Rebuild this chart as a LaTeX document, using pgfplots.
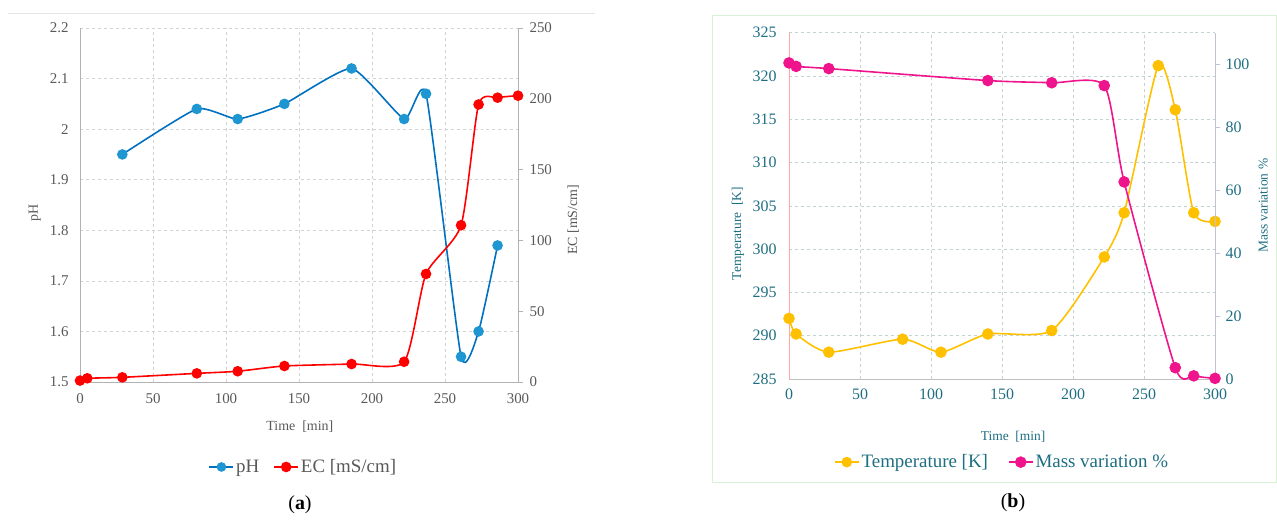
\documentclass[border=0pt]{standalone}
\usepackage{fontspec}
\setmainfont{Liberation Serif}
\usepackage{pgfplots}
\pgfplotsset{compat=1.18}
\definecolor{phblue}{RGB}{0,112,192}
\definecolor{phmark}{RGB}{30,150,210}
\definecolor{ecred}{RGB}{255,0,0}
\definecolor{tempy}{RGB}{255,192,0}
\definecolor{massp}{RGB}{240,20,140}
\definecolor{txta}{RGB}{89,89,89}
\definecolor{txtb}{RGB}{30,110,130}
\definecolor{gridc}{RGB}{210,210,210}
\definecolor{gridb}{RGB}{195,210,210}
\pgfplotsset{
  base/.style={scale only axis, xmin=0, xmax=300, xtick={0,50,...,300},
    /pgf/number format/assume math mode=true, clip=false,
    every axis plot/.append style={line width=1.6pt, smooth, tension=0.38},
    legend image code/.code={
      \draw[mark repeat=2,mark phase=2] plot coordinates {(0bp,0bp)(12bp,0bp)(24bp,0bp)};}},
  pa/.style={base, width=438bp, height=354bp, at={(80bp,-382bp)}, anchor=south west,
    tick label style={font=\fontsize{15}{15}\selectfont, text=txta},
    label style={font=\fontsize{14}{14}\selectfont, text=txta}},
  pb/.style={base, width=426bp, height=346.3bp, at={(789bp,-379bp)}, anchor=south west,
    tick label style={font=\fontsize{16}{16}\selectfont, text=txtb},
    label style={font=\fontsize{13.5}{13.5}\selectfont, text=txtb}},
}
\begin{document}
\begin{tikzpicture}[x=1bp,y=1bp]
\useasboundingbox (0,0) rectangle (1277,-521);
\draw[black!10, line width=0.8pt] (8,-13) -- (595,-13);
\draw[green!60!black!15, line width=1pt] (712,-16) rectangle (1276,-482);

% ---------- panel (a) left axis ----------
\begin{axis}[pa,
  axis x line*=bottom, axis y line*=left,
  ymin=1.5, ymax=2.2, ytick={1.5,1.6,...,2.21},
  yticklabels={1.5,1.6,1.7,1.8,1.9,2,2.1,2.2},
  grid=major, grid style={dashed, gridc, line width=0.6pt},
  axis line style={black!30, line width=0.8pt},
  major tick length=0pt,
  xticklabel style={yshift=-8bp},
  yticklabel style={xshift=-8bp},
  xlabel={Time\ \ [min]}, ylabel={pH},
  xlabel style={at={(axis description cs:0.502,-0.127)}, anchor=center},
  ylabel style={at={(axis description cs:-0.103,0.477)}, anchor=center},
]
\addplot[phblue, tension=0.3, mark=*, mark size=4.5pt, mark options={phmark, draw=phmark}] coordinates {
(29,1.95)(80,2.04)(108,2.02)(140,2.05)(186,2.12)(222,2.02)(237,2.07)(261,1.55)(273,1.60)(286,1.77)};
\end{axis}

% ---------- panel (a) right axis ----------
\begin{axis}[pa,
  axis x line=none, axis y line*=right,
  ymin=0, ymax=250, ytick={0,50,...,250},
  axis line style={black!30, line width=0.8pt},
  tick style={black!30, line width=0.8pt}, tick align=outside, major tick length=5bp,
  yticklabel style={xshift=3bp},
  ylabel={EC [mS/cm]},
  ylabel style={at={(axis description cs:1.126,0.458)}, anchor=center},
  legend style={at={(axis description cs:0.51,-0.24)}, anchor=center, draw=none,
    font=\fontsize{19}{19}\selectfont, text=txta, legend columns=2,
    /tikz/every even column/.append style={column sep=12bp}},
]
\addlegendimage{phblue, line width=1.6pt, mark=*, mark size=4pt, mark options={phmark, draw=phmark}}
\addlegendentry{pH}
\addplot[ecred, mark=*, mark size=4.5pt] coordinates {
(0,1)(5,2.6)(29,3.3)(80,6.1)(108,7.6)(140,11.3)(186,12.7)(222,14.3)(237,76.3)(261,110.7)(273,196)(286,200.8)(300,202.2)};
\addlegendentry{EC [mS/cm]}
\end{axis}

% ---------- panel (b) left axis ----------
\begin{axis}[pb,
  axis x line*=bottom, axis y line*=left,
  ymin=285, ymax=325, ytick={285,290,...,325},
  grid=major, grid style={dashed, gridb, line width=0.6pt},
  x axis line style={black!25, line width=0.8pt},
  y axis line style={red!35, line width=0.8pt},
  major tick length=0pt,
  xticklabel style={yshift=-6bp},
  yticklabel style={xshift=-9bp},
  xlabel={Time\ \ [min]}, ylabel={Temperature\ \ [K]},
  xlabel style={at={(axis description cs:0.526,-0.168)}, anchor=center},
  ylabel style={at={(axis description cs:-0.12,0.42)}, anchor=center},
]
\addplot[tempy, mark=*, mark size=5pt] coordinates {
(0,292)(5,290.2)(28,288.1)(80,289.6)(107,288.1)(140,290.2)(185,290.6)(222,299.1)(236,304.2)(260,321.2)(272,316.1)(285,304.2)(300,303.2)};
\end{axis}

% ---------- panel (b) right axis ----------
\begin{axis}[pb,
  axis x line=none, axis y line*=right,
  ymin=0, ymax=110, ytick={0,20,...,100},
  axis line style={blue!20!gray!40, line width=0.8pt},
  tick style={blue!20!gray!40, line width=0.8pt}, tick align=outside, major tick length=5bp,
  yticklabel style={xshift=2bp},
  ylabel={Mass variation \%},
  ylabel style={at={(axis description cs:1.113,0.50)}, anchor=center},
  legend style={at={(axis description cs:0.50,-0.24)}, anchor=center, draw=none, fill=none,
    font=\fontsize{19}{19}\selectfont, text=txtb, legend columns=2,
    /tikz/every even column/.append style={column sep=18bp}},
]
\addlegendimage{tempy, line width=1.6pt, mark=*, mark size=4.5pt}
\addlegendentry{Temperature [K]}
\addplot[massp, mark=*, mark size=5pt] coordinates {
(0,100.4)(5,99.3)(28,98.6)(140,94.8)(185,94.1)(222,93.2)(236,62.6)(272,3.6)(285,1.0)(300,0.2)};
\addlegendentry{Mass variation \%}
\end{axis}

\node[font=\fontsize{20}{20}\selectfont] at (300,-505) {(\textbf{a})};
\node[font=\fontsize{20}{20}\selectfont] at (1013,-503) {(\textbf{b})};
\end{tikzpicture}
\end{document}
